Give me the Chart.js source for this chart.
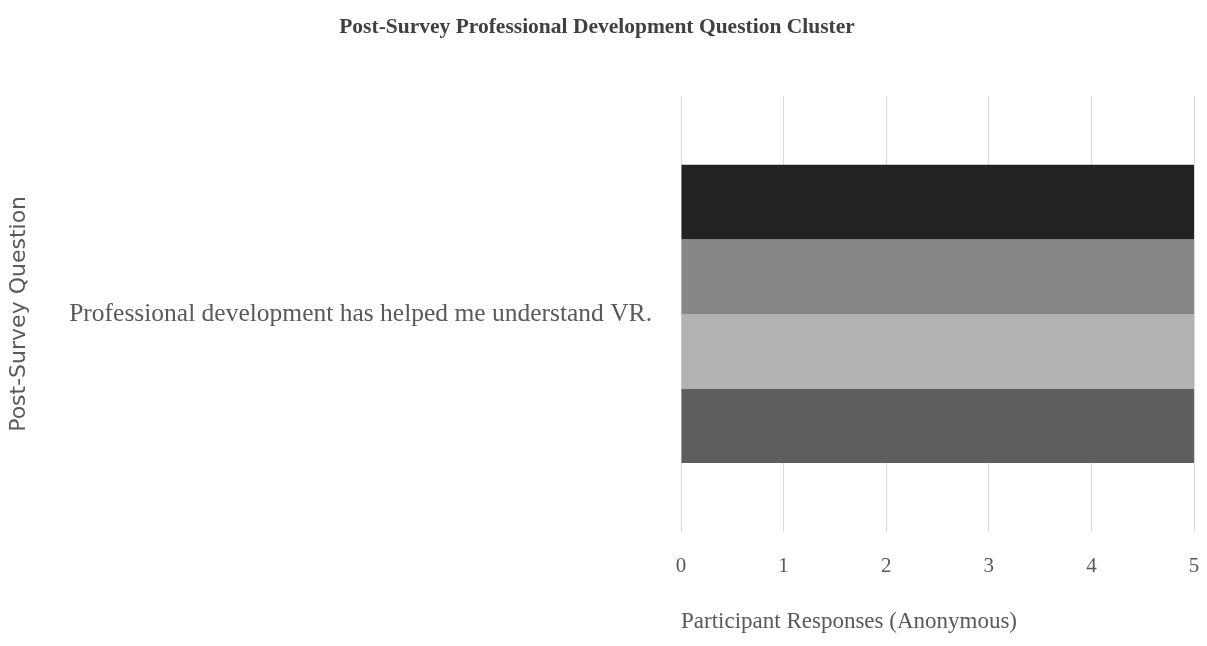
<!DOCTYPE html>
<html>
<head>
<meta charset="utf-8">
<script src="https://cdn.jsdelivr.net/npm/chart.js@4/dist/chart.umd.min.js"></script>
<style>
  html, body { margin: 0; padding: 0; background: #ffffff; }
  #wrap { width: 1207px; height: 646px; }
</style>
</head>
<body>
<div id="wrap"><canvas id="chart" width="1207" height="646"></canvas></div>
<script>
// Survey question (single category)
const categories = ['Professional development has helped me understand VR.'];

// Participant response series (one bar per participant)
const responseA = [5];
const responseB = [5];
const responseC = [5];
const responseD = [5];

const seriesNames = ['Participant 1', 'Participant 2', 'Participant 3', 'Participant 4'];
const seriesColors = ['#222222', '#878787', '#b2b2b2', '#5e5e5e'];

const xTicks = [0, 1, 2, 3, 4, 5];

const serif = '"Liberation Serif", "Times New Roman", serif';
const textColor = '#595959';

const seriesValues = [responseA, responseB, responseC, responseD];

new Chart(document.getElementById('chart'), {
  type: 'bar',
  data: {
    labels: categories,
    datasets: seriesValues.map((vals, i) => ({
      label: seriesNames[i],
      data: vals,
      backgroundColor: seriesColors[i],
      borderWidth: 0,
      categoryPercentage: 0.684,
      barPercentage: 1.0
    }))
  },
  options: {
    indexAxis: 'y',
    responsive: false,
    animation: false,
    layout: { padding: { left: 0, right: 13, top: 0, bottom: 0 } },
    plugins: {
      legend: { display: false },
      tooltip: { enabled: false },
      title: {
        display: true,
        text: 'Post-Survey Professional Development Question Cluster',
        color: '#404040',
        font: { family: serif, size: 21.5, weight: 'bold' },
        padding: { top: 15, bottom: 55 }
      }
    },
    scales: {
      x: {
        min: 0,
        max: 5,
        afterBuildTicks: (scale) => { scale.ticks = xTicks.map(v => ({ value: v })); },
        afterFit: (scale) => {
          scale.height = 114;
          scale.paddingLeft = 0;
          scale.paddingRight = 0;
        },
        grid: { color: '#d9d9d9', lineWidth: 1, drawTicks: false },
        border: { display: false },
        ticks: {
          color: textColor,
          padding: 22,
          font: { family: serif, size: 21 }
        },
        title: {
          display: true,
          text: 'Participant Responses (Anonymous)',
          align: 'start',
          color: textColor,
          font: { family: serif, size: 23 },
          padding: { top: 18, bottom: 10 }
        }
      },
      y: {
        afterFit: (scale) => { scale.width = 681; },
        grid: { display: false },
        border: { display: false },
        ticks: {
          color: textColor,
          padding: 21,
          font: { family: serif, size: 25.5 }
        },
        title: {
          display: true,
          text: 'Post-Survey Question',
          color: textColor,
          font: { family: '"DejaVu Sans", sans-serif', size: 22 },
          padding: { top: 6, bottom: 0 }
        }
      }
    }
  }
});
</script>
</body>
</html>
